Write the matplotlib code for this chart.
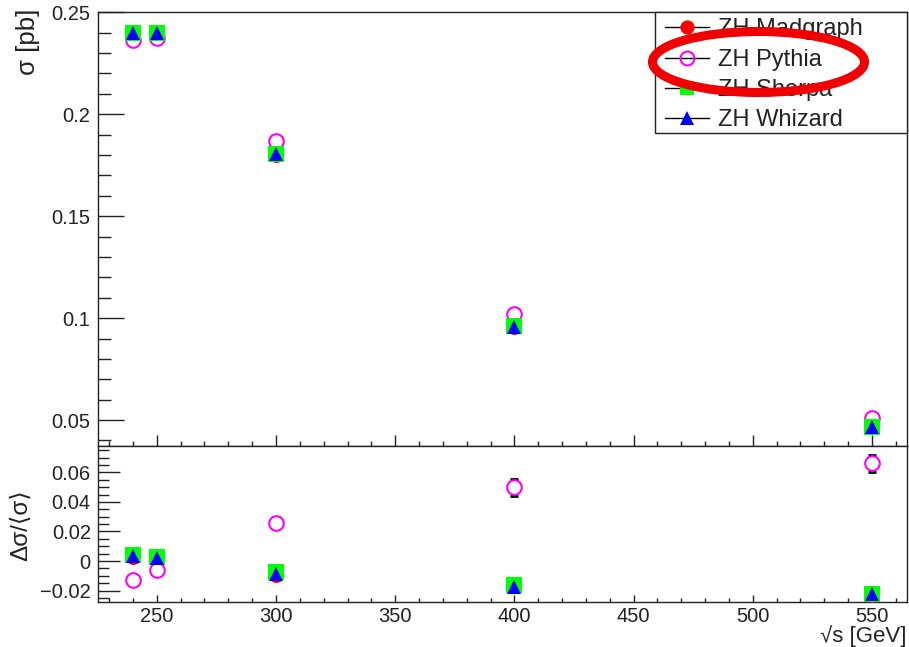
import matplotlib
matplotlib.use("Agg")
import matplotlib.pyplot as plt
from matplotlib.lines import Line2D
from matplotlib.patches import Ellipse, Rectangle
from matplotlib.ticker import MultipleLocator

plt.rcParams['font.family'] = ['Liberation Sans', 'DejaVu Sans']

# ---------------- data ----------------
sqrt_s = [240, 250, 300, 400, 550]
labels = ["ZH Madgraph", "ZH Pythia", "ZH Sherpa", "ZH Whizard"]

sigma_madgraph = [0.2398, 0.2397, 0.1802, 0.0955, 0.0465]
sigma_pythia   = [0.2365, 0.2374, 0.1868, 0.1020, 0.0510]
sigma_sherpa   = [0.2400, 0.2400, 0.1806, 0.0960, 0.0468]
sigma_whizard  = [0.2400, 0.2399, 0.1803, 0.0958, 0.0467]

ratio_madgraph = [0.0030, 0.0015, -0.0095, -0.0170, -0.0230]
ratio_pythia   = [-0.0130, -0.0063, 0.0260, 0.0500, 0.0660]
ratio_sherpa   = [0.0040, 0.0027, -0.0075, -0.0160, -0.0220]
ratio_whizard  = [0.0035, 0.0020, -0.0090, -0.0175, -0.0225]
ratio_pythia_err = [0.003, 0.003, 0.004, 0.0058, 0.0058]

# ---------------- figure ----------------
W, H = 909, 647
fig = plt.figure(figsize=(W / 100, H / 100), dpi=100)
fig.patch.set_facecolor('white')

def fx(px):
    return px / W

def fy(py):
    return 1 - py / H

left, right = 97.7, 907
ax1 = fig.add_axes([fx(left), fy(446), fx(right) - fx(left), fy(12.3) - fy(446)])
ax2 = fig.add_axes([fx(left), fy(602), fx(right) - fx(left), fy(446) - fy(602)])

xlim = (225.2, 564.7)

styles = [
    dict(marker='o', color='#ff0000', mfc='#ff0000', ms=10.8, mew=0),
    dict(marker='o', color='#ff00ff', mfc='none', ms=10.5, mew=1.5),
    dict(marker='s', color='#00ff00', mfc='#00ff00', ms=11.0, mew=0),
    dict(marker='^', color='#0000ff', mfc='#0000ff', ms=10.5, mew=0),
]

sigmas = [sigma_madgraph, sigma_pythia, sigma_sherpa, sigma_whizard]
ratios = [ratio_madgraph, ratio_pythia, ratio_sherpa, ratio_whizard]

for i, (s, st) in enumerate(zip(sigmas, styles)):
    ax1.plot(sqrt_s, s, linestyle='none', marker=st['marker'], mfc=st['mfc'],
             mec=st['color'], ms=st['ms'], mew=st['mew'], zorder=3 + i)

# lower panel
ax2.errorbar(sqrt_s, ratio_pythia, yerr=ratio_pythia_err, fmt='none',
             ecolor='black', elinewidth=1.0, capsize=3, capthick=2, zorder=2)
for i, (r, st) in enumerate(zip(ratios, styles)):
    mfc = st['mfc'] if st['mfc'] != 'none' else 'white'
    ax2.plot(sqrt_s, r, linestyle='none', marker=st['marker'], mfc=mfc,
             mec=st['color'], ms=st['ms'], mew=st['mew'], zorder=3 + i)

# axes styling
ax1.set_xlim(*xlim)
ax2.set_xlim(*xlim)

for ax in (ax1, ax2):
    for sp in ax.spines.values():
        sp.set_linewidth(1.0)
        sp.set_color('#222222')
    ax.xaxis.set_major_locator(MultipleLocator(50))
    ax.xaxis.set_minor_locator(MultipleLocator(10))
    ax.tick_params(which='both', direction='in', top=False, right=False,
                   colors='#222222', labelcolor='#222222', width=1.0)

ax1.yaxis.set_major_locator(MultipleLocator(0.05))
ax1.yaxis.set_minor_locator(MultipleLocator(0.01))
ax1.tick_params(axis='y', which='major', length=19, labelsize=14.5, pad=5.5)
ax1.tick_params(axis='y', which='minor', length=9.5)
ax1.tick_params(axis='x', which='major', length=8, labelbottom=False)
ax1.tick_params(axis='x', which='minor', length=3.8)
ax1.set_yticks([0.05, 0.1, 0.15, 0.2, 0.25])
ax1.set_yticklabels(['0.05', '0.1', '0.15', '0.2', '0.25'])
ax1.set_ylim(0.0373, 0.25)

ax2.yaxis.set_major_locator(MultipleLocator(0.02))
ax2.yaxis.set_minor_locator(MultipleLocator(0.005))
ax2.tick_params(axis='y', which='major', length=16, labelsize=14.5, pad=5)
ax2.tick_params(axis='y', which='minor', length=8)
ax2.tick_params(axis='x', which='major', length=4.8, labelsize=14.5, pad=3.5)
ax2.tick_params(axis='x', which='minor', length=2.6)
ax2.set_yticks([-0.02, 0, 0.02, 0.04, 0.06])
ax2.set_yticklabels(['\u22120.02', '0', '0.02', '0.04', '0.06'])
ax2.set_ylim(-0.0277, 0.0778)

# axis titles
fig.text(fx(28), fy(9), 'σ [pb]', rotation=90, ha='center', va='top',
         fontsize=18.5, color='#222222')
fig.text(fx(21), fy(489), 'Δσ/⟨σ⟩', rotation=90, ha='center', va='top',
         fontsize=17.5, color='#222222')
fig.text(fx(907), fy(636), '√s [GeV]', ha='right', va='center',
         fontsize=16, color='#222222')

# legend
fig.add_artist(Rectangle((fx(655), fy(133)), fx(907) - fx(655), fy(12.3) - fy(133),
                         transform=fig.transFigure, fill=True, facecolor='white',
                         edgecolor='#222222', linewidth=1.0, zorder=10))
handles = [Line2D([0], [0], color='black', lw=1.0, marker=st['marker'],
                  mfc=st['mfc'], mec=st['color'], ms=st['ms'] * 0.95, mew=st['mew'])
           for st in styles]
leg = fig.legend(handles, labels, loc='upper left',
                 bbox_to_anchor=(fx(665), fy(18.5)), frameon=False,
                 fontsize=17, handlelength=1.85, handletextpad=0.4,
                 labelspacing=0.35, borderpad=0.0, borderaxespad=0.0)
leg.set_zorder(11)
for t in leg.get_texts():
    t.set_color('#222222')

# red highlight ellipse
fig.add_artist(Ellipse((fx(758.5), fy(62)), fx(212) - fx(0), fy(0) - fy(61),
                       transform=fig.transFigure, fill=False,
                       edgecolor='#f00000', linewidth=6.5, zorder=20))

fig.savefig('out.png', dpi=100)
